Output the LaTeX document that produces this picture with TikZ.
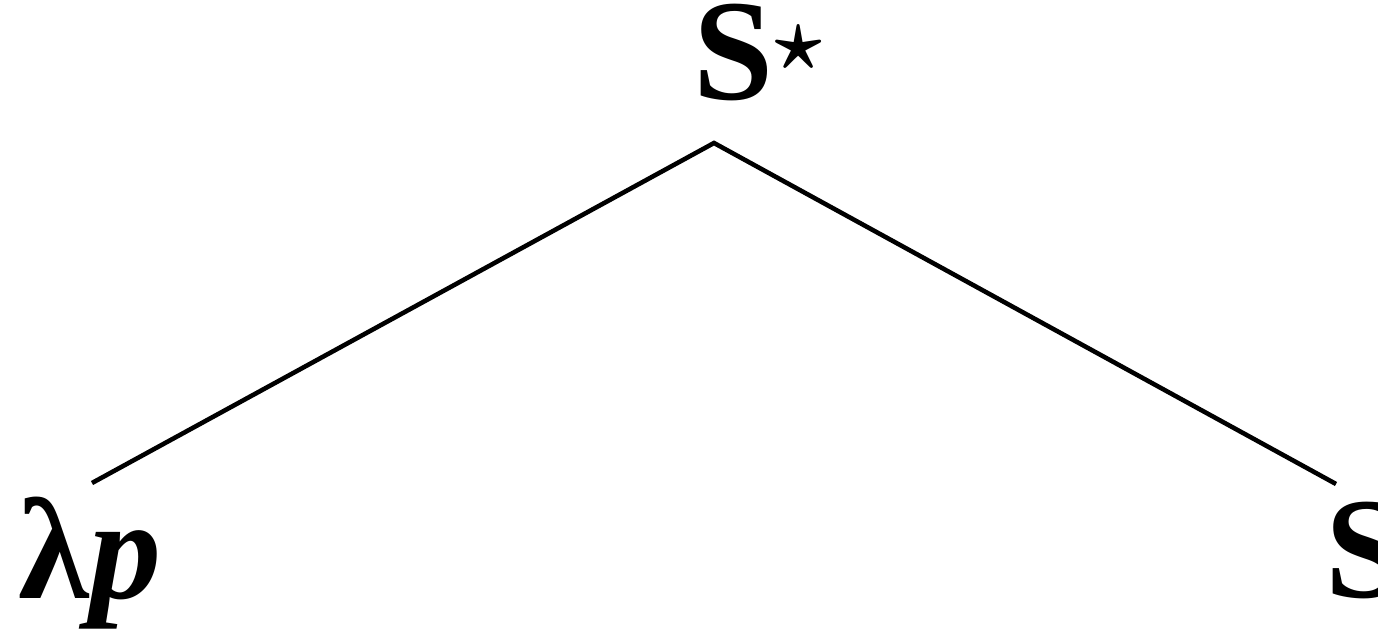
\documentclass[tikz,border=0pt]{standalone}
\usepackage{fontspec}
\setmainfont{Liberation Serif}
\usepackage{tikz}
\usetikzlibrary{positioning,calc}

\begin{document}
\begin{tikzpicture}[
  lbl/.style={inner sep=0pt, font=\fontsize{41}{44}\selectfont\bfseries\boldmath},
  edge/.style={line width=1.3pt, black}
]
\useasboundingbox (0,0) rectangle (13.78,6.32);
\node[lbl, anchor=base west] (root) at (6.93,5.32) {S$^\star$};
\node[lbl, anchor=base west] (lp) at (0.18,0.34) {λ\textit{p}};
\node[lbl, anchor=base west] (sr) at (13.25,0.35) {S};

\coordinate (apex) at ($(root.base west)+(0.21,-0.43)$);
\coordinate (lpend) at ($(lp.base west)+(0.74,1.15)$);
\coordinate (srend) at ($(sr.base west)+(0.11,1.13)$);

\draw[edge] (lpend) -- (apex) -- (srend);
\end{tikzpicture}
\end{document}
